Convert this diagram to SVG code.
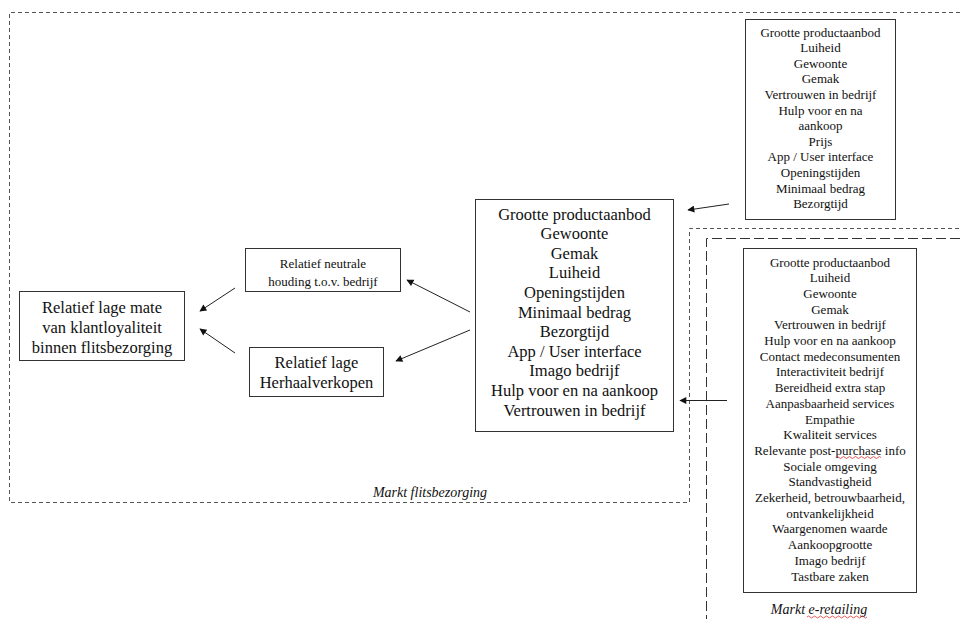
<svg xmlns="http://www.w3.org/2000/svg" width="960" height="619" viewBox="0 0 960 619">
<style>
.box{fill:#fff;stroke:#333;stroke-width:1}
.t{font-family:"Liberation Serif","Times New Roman",serif;fill:#111;text-anchor:middle}
.s13{font-size:13px}
.s16{font-size:16.5px}
.it{font-style:italic;font-size:14px}
.zone1{fill:none;stroke:#555;stroke-width:1;stroke-dasharray:4 3}
.zone2{fill:none;stroke:#333;stroke-width:1;stroke-dasharray:10 4}
.c{stroke:#222;stroke-width:1;fill:none;marker-end:url(#ah)}
.sq{fill:none;stroke:#e03030;stroke-width:0.8}
</style>
<defs>
<marker id="ah" viewBox="0 0 10 10" refX="9" refY="5" markerWidth="8" markerHeight="7" markerUnits="userSpaceOnUse" orient="auto">
<path d="M0,0 L10,5 L0,10 z" fill="#111"/>
</marker>
</defs>
<rect width="960" height="619" fill="#fff"/>
<g id="zones">
<path class="zone1" d="M960,12.5 H9.5 V502.5 H689.5 V228.5 H960"/>
<path class="zone2" d="M960,238.5 H706.5 V619"/>
<text class="t it" x="430" y="497">Markt flitsbezorging</text>
<text class="t it" x="819" y="614">Markt e-retailing</text>
<path class="sq" d="M807,617 q1.5,-2 3,0 t3,0 t3,0 t3,0 t3,0 t3,0 t3,0 t3,0 t3,0 t3,0 t3,0 t3,0 t3,0 t3,0 t3,0 t3,0 t3,0 t3,0 t3,0 t3,0"/>
</g>
<g id="loyaliteit">
<rect class="box" x="19.5" y="291.5" width="165" height="69"/>
<text class="t s16" x="102" y="312.5">Relatief lage mate</text>
<text class="t s16" x="102" y="332.5">van klantloyaliteit</text>
<text class="t s16" x="102" y="352.5">binnen flitsbezorging</text>
</g>
<g id="neutraal">
<rect class="box" x="245.5" y="248.5" width="155" height="43"/>
<text class="t s13" x="323" y="267.5">Relatief neutrale</text>
<text class="t s13" x="323" y="286">houding t.o.v. bedrijf</text>
</g>
<g id="herhaal">
<rect class="box" x="249.5" y="347.5" width="134" height="49"/>
<text class="t s16" x="316.5" y="367.5">Relatief lage</text>
<text class="t s16" x="316.5" y="387.5">Herhaalverkopen</text>
</g>
<g id="factoren">
<rect class="box" x="475.5" y="199.5" width="198" height="232"/>
<text class="t s16" x="574.5" y="219.5">Grootte productaanbod</text>
<text class="t s16" x="574.5" y="239.1">Gewoonte</text>
<text class="t s16" x="574.5" y="258.7">Gemak</text>
<text class="t s16" x="574.5" y="278.3">Luiheid</text>
<text class="t s16" x="574.5" y="297.9">Openingstijden</text>
<text class="t s16" x="574.5" y="317.5">Minimaal bedrag</text>
<text class="t s16" x="574.5" y="337.1">Bezorgtijd</text>
<text class="t s16" x="574.5" y="356.7">App / User interface</text>
<text class="t s16" x="574.5" y="376.3">Imago bedrijf</text>
<text class="t s16" x="574.5" y="395.9">Hulp voor en na aankoop</text>
<text class="t s16" x="574.5" y="415.5">Vertrouwen in bedrijf</text>
</g>
<g id="flits-lijst">
<rect class="box" x="745.5" y="19.5" width="150" height="200"/>
<text class="t s13" x="820.5" y="36.5">Grootte productaanbod</text>
<text class="t s13" x="820.5" y="52.1">Luiheid</text>
<text class="t s13" x="820.5" y="67.7">Gewoonte</text>
<text class="t s13" x="820.5" y="83.3">Gemak</text>
<text class="t s13" x="820.5" y="98.9">Vertrouwen in bedrijf</text>
<text class="t s13" x="820.5" y="114.5">Hulp voor en na</text>
<text class="t s13" x="820.5" y="130.1">aankoop</text>
<text class="t s13" x="820.5" y="145.7">Prijs</text>
<text class="t s13" x="820.5" y="161.3">App / User interface</text>
<text class="t s13" x="820.5" y="176.9">Openingstijden</text>
<text class="t s13" x="820.5" y="192.5">Minimaal bedrag</text>
<text class="t s13" x="820.5" y="208.1">Bezorgtijd</text>
</g>
<g id="eretail-lijst">
<rect class="box" x="743.5" y="248.5" width="173" height="344"/>
<text class="t s13" x="830" y="266.5">Grootte productaanbod</text>
<text class="t s13" x="830" y="282.2">Luiheid</text>
<text class="t s13" x="830" y="297.9">Gewoonte</text>
<text class="t s13" x="830" y="313.6">Gemak</text>
<text class="t s13" x="830" y="329.3">Vertrouwen in bedrijf</text>
<text class="t s13" x="830" y="345">Hulp voor en na aankoop</text>
<text class="t s13" x="830" y="360.7">Contact medeconsumenten</text>
<text class="t s13" x="830" y="376.4">Interactiviteit bedrijf</text>
<text class="t s13" x="830" y="392.1">Bereidheid extra stap</text>
<text class="t s13" x="830" y="407.8">Aanpasbaarheid services</text>
<text class="t s13" x="830" y="423.5">Empathie</text>
<text class="t s13" x="830" y="439.2">Kwaliteit services</text>
<text class="t s13" x="830" y="454.9">Relevante post-purchase info</text>
<text class="t s13" x="830" y="470.6">Sociale omgeving</text>
<text class="t s13" x="830" y="486.3">Standvastigheid</text>
<text class="t s13" x="830" y="502">Zekerheid, betrouwbaarheid,</text>
<text class="t s13" x="830" y="517.7">ontvankelijkheid</text>
<text class="t s13" x="830" y="533.4">Waargenomen waarde</text>
<text class="t s13" x="830" y="549.1">Aankoopgrootte</text>
<text class="t s13" x="830" y="564.8">Imago bedrijf</text>
<text class="t s13" x="830" y="580.5">Tastbare zaken</text>
<path class="sq" d="M836,457.5 q1.5,-2 3,0 t3,0 t3,0 t3,0 t3,0 t3,0 t3,0 t3,0 t3,0 t3,0 t3,0 t3,0 t3,0 t3,0 t3,0"/>
</g>
<g id="connectors">
<line class="c" x1="729" y1="204" x2="688" y2="210"/>
<line class="c" x1="727" y1="400.5" x2="680" y2="400.5"/>
<line class="c" x1="470" y1="312" x2="407" y2="280"/>
<line class="c" x1="470" y1="330" x2="396" y2="361"/>
<line class="c" x1="235" y1="288" x2="200" y2="311"/>
<line class="c" x1="235" y1="353" x2="200" y2="329"/>
</g>
</svg>
